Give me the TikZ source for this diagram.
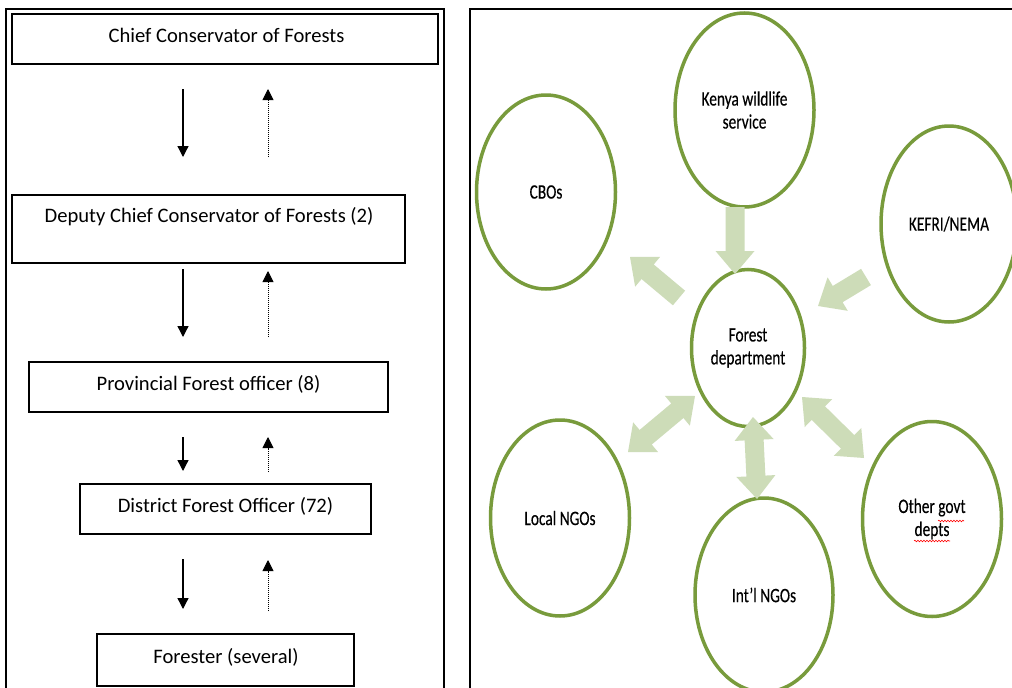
\documentclass[tikz,border=0pt]{standalone}
\usepackage{fontspec}
\setmainfont{Carlito}
\newfontfamily\rfont[FakeStretch=0.75,FakeBold=0.3]{Carlito}
\usetikzlibrary{arrows.meta,calc,shapes.geometric,decorations.pathmorphing}
\definecolor{egreen}{RGB}{120,155,60}
\definecolor{afill}{RGB}{205,220,184}
\newcommand\bsw{9.5pt}
\newcommand\bhw{19.5pt}
\newcommand\bhl{23pt}
\newcommand\blockarrow[2]{%
  \coordinate (hb) at ($(#2)!\bhl!(#1)$);
  \fill[afill] ($(#1)!\bsw!90:(#2)$) -- ($(hb)!\bsw!90:(#2)$) -- ($(hb)!\bhw!90:(#2)$) -- (#2)
    -- ($(hb)!\bhw!-90:(#2)$) -- ($(hb)!\bsw!-90:(#2)$) -- ($(#1)!\bsw!-90:(#2)$) -- cycle;}
\newcommand\dblockarrow[2]{%
  \coordinate (ha) at ($(#1)!\bhl!(#2)$);
  \coordinate (hb) at ($(#2)!\bhl!(#1)$);
  \fill[afill] (#1) -- ($(ha)!\bhw!90:(#2)$) -- ($(ha)!\bsw!90:(#2)$) -- ($(hb)!\bsw!90:(#2)$)
    -- ($(hb)!\bhw!90:(#2)$) -- (#2) -- ($(hb)!\bhw!-90:(#2)$) -- ($(hb)!\bsw!-90:(#2)$)
    -- ($(ha)!\bsw!-90:(#2)$) -- ($(ha)!\bhw!-90:(#2)$) -- cycle;}
\tikzset{
  frame/.style={line width=1.2pt},
  lbox/.style={draw, rectangle, line width=1.6pt, inner sep=0pt, outer sep=0pt},
  ltext/.style={anchor=base, inner sep=0pt, font=\fontsize{20.6}{24}\selectfont},
  down/.style={line width=1.3pt, -{Triangle[width=11pt,length=11pt]}},
  upd/.style={line width=0.9pt, dash pattern=on 0.9pt off 1.1pt, -{Triangle[width=11pt,length=11pt]}},
  ell/.style={draw=egreen, line width=3.5pt, ellipse, inner sep=0pt,
    align=center, font=\rfont\fontsize{20.5}{23}\selectfont},
  squig/.style={red, line width=0.6pt, decorate,
    decoration={snake, amplitude=0.8pt, segment length=3pt}}
}
\begin{document}
\begin{tikzpicture}[x=1pt, y=-1pt]
\useasboundingbox (0,0) rectangle (1012,688);
\fill[white] (0,0) rectangle (1012,688);
% frames
\draw[frame] (6,700) -- (6,9) -- (444,9) -- (444,700);
\draw[frame] (470,700) -- (470,9) -- (1030,9);

% left hierarchy boxes
\node[lbox, minimum width=426pt, minimum height=50pt] (chief) at (225,39) {};
\node[ltext] (chiefT) at (226.5,42) {Chief Conservator of Forests};
\node[lbox, minimum width=393pt, minimum height=68pt] (deputy) at (208.5,229) {};
\node[ltext] (deputyT) at (209,222) {Deputy Chief Conservator of Forests (2)};
\node[lbox, minimum width=359pt, minimum height=50pt] (prov) at (208.5,387) {};
\node[ltext] (provT) at (208.5,390) {Provincial Forest officer (8)};
\node[lbox, minimum width=291pt, minimum height=50pt] (dist) at (225.5,509) {};
\node[ltext] (distT) at (225.5,512) {District Forest Officer (72)};
\node[lbox, minimum width=257pt, minimum height=52pt] (forester) at (225.5,660) {};
\node[ltext] (foresterT) at (226,663) {Forester (several)};

% left arrows
\coordinate (d1a) at (183,89);  \coordinate (d1b) at (183,157);
\coordinate (u1a) at (268,157); \coordinate (u1b) at (268,89);
\coordinate (d2a) at (183,269); \coordinate (d2b) at (183,337);
\coordinate (u2a) at (268,337); \coordinate (u2b) at (268,271);
\coordinate (d3a) at (183,437); \coordinate (d3b) at (183,471);
\coordinate (u3a) at (268,472); \coordinate (u3b) at (268,437);
\coordinate (d4a) at (183,559); \coordinate (d4b) at (183,609);
\coordinate (u4a) at (268,611); \coordinate (u4b) at (268,560);
\draw[down] (d1a) -- (d1b);
\draw[upd] (u1a) -- (u1b);
\draw[down] (d2a) -- (d2b);
\draw[upd] (u2a) -- (u2b);
\draw[down] (d3a) -- (d3b);
\draw[upd] (u3a) -- (u3b);
\draw[down] (d4a) -- (d4b);
\draw[upd] (u4a) -- (u4b);

% right: ellipses
\node[ell, minimum width=139pt, minimum height=194pt] (kws) at (744.5,110) {Kenya wildlife\\service};
\node[ell, minimum width=139pt, minimum height=194pt] (cbo) at (546,192) {CBOs};
\node[ell, minimum width=136pt, minimum height=196pt] (kef) at (949,224) {KEFRI/NEMA};
\node[ell, minimum width=113pt, minimum height=157pt] (fd) at (748,348) {Forest\\department};
\node[ell, minimum width=139pt, minimum height=196pt] (lng) at (560,518) {Local NGOs};
\node[ell, minimum width=138pt, minimum height=194pt] (ing) at (764,595) {Int’l NGOs};
\node[ell, minimum width=139pt, minimum height=195pt] (ogd) at (932,519) {Other govt\\depts};

% spell-check underlines
\draw[squig] (938,521) -- (964,521);
\draw[squig] (914,541) -- (950,541);

% right: block arrows
\coordinate (kA) at (735,207); \coordinate (kB) at (735,274);
\coordinate (cA) at (679,298); \coordinate (cB) at (630,257);
\coordinate (eA) at (866,277); \coordinate (eB) at (818,306);
\coordinate (lA) at (628,452); \coordinate (lB) at (695,396);
\coordinate (iA) at (757,499); \coordinate (iB) at (753,417);
\coordinate (oA) at (864,458); \coordinate (oB) at (802,397);
\blockarrow{kA}{kB}
\blockarrow{cA}{cB}
\blockarrow{eA}{eB}
\dblockarrow{lA}{lB}
\dblockarrow{iA}{iB}
\dblockarrow{oA}{oB}
\end{tikzpicture}
\end{document}
